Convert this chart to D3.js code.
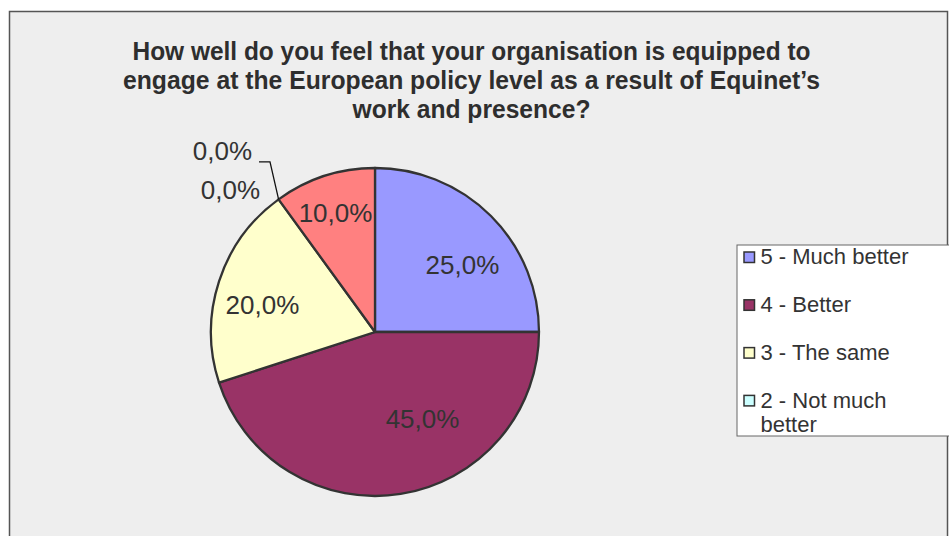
<!DOCTYPE html>
<html>
<head>
<meta charset="utf-8">
<script src="https://cdn.jsdelivr.net/npm/d3@7"></script>
<style>
  html, body { margin: 0; padding: 0; background: #ffffff; }
  svg { display: block; font-family: "Liberation Sans", Arial, sans-serif; }
</style>
</head>
<body>
<svg id="chart" width="949" height="536"></svg>
<script>
// Survey answers, in the order they run clockwise from 12 o'clock
const categories = ["5 - Much better", "4 - Better", "3 - The same", "2 - Not much better", "1 - Not at all", "Don't know"];
const shares = [25, 45, 20, 0, 0, 10];
const sliceColors = ["#9999FF", "#993366", "#FFFFCC", "#CCFFFF", "#660066", "#FF8080"];
const titleLines = [
  "How well do you feel that your organisation is equipped to",
  "engage at the European policy level as a result of Equinet\u2019s",
  "work and presence?"
];

const W = 949, H = 536;
const svg = d3.select("#chart");

// chart area
svg.append("rect").attr("x", 0).attr("y", 0).attr("width", W).attr("height", H).attr("fill", "#ffffff");
svg.append("rect")
  .attr("x", 9.5).attr("y", 11.5).attr("width", W - 11).attr("height", H)
  .attr("fill", "#eeeeee").attr("stroke", "#555555").attr("stroke-width", 1.5);

// title
const titleWidths = [678, 697, 238];
const title = svg.append("g");
titleLines.forEach((line, i) => {
  title.append("text")
    .attr("x", 471.5).attr("y", 59.5 + i * 29)
    .attr("text-anchor", "middle")
    .attr("font-size", 26.5).attr("font-weight", "bold")
    .attr("fill", "#2e2e2e")
    .attr("textLength", titleWidths[i]).attr("lengthAdjust", "spacingAndGlyphs")
    .text(line);
});

// pie
const cx = 375, cy = 332, R = 164;
const data = categories.map((c, i) => ({ name: c, value: shares[i], color: sliceColors[i] }));
const pie = d3.pie().value(d => d.value).sort(null).startAngle(0).endAngle(2 * Math.PI);
const arcs = pie(data);
const arc = d3.arc().innerRadius(0).outerRadius(R);
const labelArc = d3.arc().innerRadius(110).outerRadius(110);

const g = svg.append("g").attr("transform", `translate(${cx},${cy})`);
g.selectAll("path.slice")
  .data(arcs.filter(d => d.value > 0))
  .join("path")
  .attr("class", "slice")
  .attr("d", arc)
  .attr("fill", d => d.data.color)
  .attr("stroke", "#333333")
  .attr("stroke-width", 2.3)
  .attr("stroke-linejoin", "round");

const fmt = v => d3.format(".1f")(v).replace(".", ",") + "%";
const total = d3.sum(shares);

// inside labels: placed off the slice centroid, shifted the way the layout engine set them
const labelShift = { 0: [9.7, 11], 1: [30.3, -21.4], 2: [-7.9, 7.3], 5: [-5.5, -14.2] };
g.selectAll("text.inside")
  .data(arcs.filter(d => d.value > 0))
  .join("text")
  .attr("class", "inside")
  .attr("transform", d => {
    const [x, y] = labelArc.centroid(d);
    const s = labelShift[d.index] || [0, 0];
    return `translate(${x + s[0]},${y + s[1]})`;
  })
  .attr("text-anchor", "middle")
  .attr("dy", "0.35em")
  .attr("font-size", 26)
  .attr("fill", "#333333")
  .text(d => fmt(d.value / total * 100));

// zero-share labels sit outside, at the slice boundary
const zeros = arcs.filter(d => d.value === 0);
zeros.forEach((d, k) => {
  const a = d.startAngle;
  const ex = Math.sin(a) * R, ey = -Math.cos(a) * R;
  if (k === 0) {
    // upper label with leader line
    const lx = ex - 8.6, ly = ey - 37.5;
    g.append("path")
      .attr("d", `M${lx - 11},${ly} L${lx},${ly} L${ex},${ey}`)
      .attr("fill", "none").attr("stroke", "#111111").attr("stroke-width", 1.3);
    g.append("text")
      .attr("x", ex - 26.5).attr("y", ey - 39.5)
      .attr("text-anchor", "end").attr("font-size", 26).attr("fill", "#333333")
      .text(fmt(d.value));
  } else {
    g.append("text")
      .attr("x", ex - 18.5).attr("y", ey)
      .attr("text-anchor", "end").attr("font-size", 26).attr("fill", "#333333")
      .text(fmt(d.value));
  }
});

// legend box (entries that do not fit are clipped away)
const lx0 = 737, ly0 = 245, lw = 240, lh = 191;
svg.append("clipPath").attr("id", "legendClip")
  .append("rect").attr("x", lx0).attr("y", ly0).attr("width", lw).attr("height", lh);
svg.append("rect")
  .attr("x", lx0).attr("y", ly0).attr("width", lw).attr("height", lh)
  .attr("fill", "#ffffff").attr("stroke", "#666666").attr("stroke-width", 1);

const legend = svg.append("g").attr("clip-path", "url(#legendClip)");
const wrapLegend = name => name === "2 - Not much better" ? ["2 - Not much", "better"] : [name];
const entry = legend.selectAll("g.entry")
  .data(data)
  .join("g")
  .attr("class", "entry")
  .attr("transform", (d, i) => `translate(0,${264.3 + i * 47.8})`);
entry.append("rect")
  .attr("x", 744).attr("y", -12.3).attr("width", 10.5).attr("height", 10.5)
  .attr("fill", d => d.color).attr("stroke", "#333333").attr("stroke-width", 1.5);
entry.append("text")
  .attr("font-size", 22).attr("fill", "#333333")
  .each(function(d) {
    const t = d3.select(this);
    wrapLegend(d.name).forEach((ln, j) => {
      t.append("tspan").attr("x", 760.5).attr("y", j * 24).text(ln);
    });
  });
</script>
</body>
</html>
